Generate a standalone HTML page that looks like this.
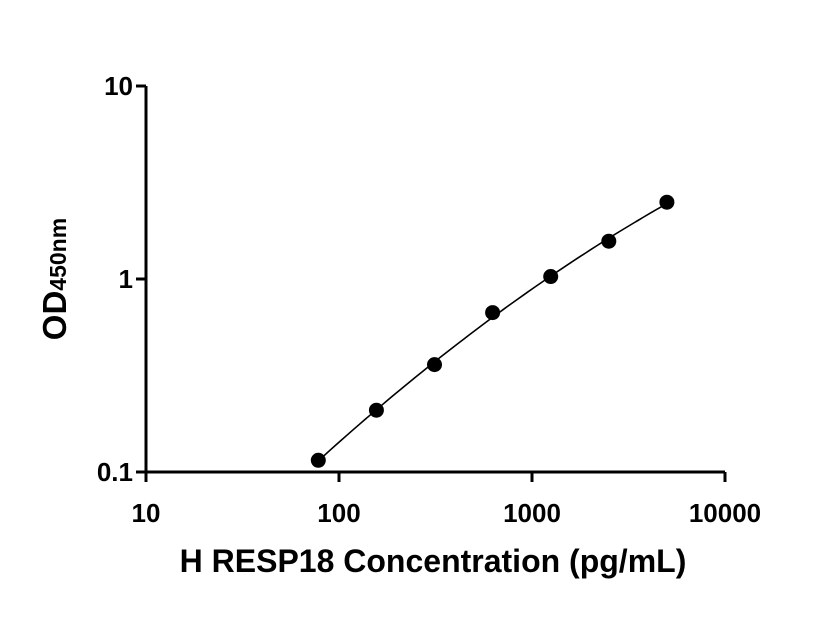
<!DOCTYPE html>
<html><head><meta charset="utf-8"><style>
body{margin:0;background:#fff;}
svg{display:block;font-family:"Liberation Sans",sans-serif;font-weight:bold;}
</style></head><body>
<svg id="chart" width="816" height="640">
<g id="axes"></g><g id="marks"></g>
<text x="433" y="572" font-size="32" text-anchor="middle">H RESP18 Concentration (pg/mL)</text>
<text transform="translate(66,279) rotate(-90)" font-size="33" text-anchor="middle">OD<tspan font-size="23">450nm</tspan></text>
</svg>
<script>
const conc=[78.125,156.25,312.5,625,1250,2500,5000];
const od=[0.115,0.209,0.36,0.67,1.03,1.57,2.5];
const xTicks=[10,100,1000,10000];
const xTickLabels=["10","100","1000","10000"];
const yTicks=[0.1,1,10];
const yTickLabels=["0.1","1","10"];
const X0=146,X1=725,Y0=472,Y1=86;
function sx(v){return X0+(Math.log10(v)-1)/3*(X1-X0);}
function sy(v){return Y0-(Math.log10(v)+1)/2*(Y0-Y1);}
const NS="http://www.w3.org/2000/svg";
const axes=document.getElementById('axes'),marks=document.getElementById('marks');
function mk(tag,attrs,parent){const e=document.createElementNS(NS,tag);for(const k in attrs)e.setAttribute(k,attrs[k]);parent.appendChild(e);return e;}
let l=mk('line',{x1:X0,y1:Y0,x2:X1,y2:Y0,stroke:'#000','stroke-width':3},axes);


l=mk('line',{x1:X0,y1:Y0+1.5,x2:X0,y2:Y1,stroke:'#000','stroke-width':3},axes);


xTicks.forEach((t,i)=>{
 const tk=mk('line',{x1:sx(t),y1:Y0,x2:sx(t),y2:Y0+10,stroke:'#000','stroke-width':3},axes);
 
 
 const tx=mk('text',{x:sx(t),y:Y0+50,'font-size':26,'text-anchor':'middle'},axes);
 tx.textContent=xTickLabels[i];
 
 
});
yTicks.forEach((t,i)=>{
 const tk=mk('line',{x1:X0-10,y1:sy(t),x2:X0,y2:sy(t),stroke:'#000','stroke-width':3},axes);
 
 
 const tx=mk('text',{x:X0-13,y:sy(t)+9,'font-size':26,'text-anchor':'end'},axes);
 tx.textContent=yTickLabels[i];
 
 
});
const lx=conc.map(Math.log10),ly=od.map(Math.log10);
function solve3(A,b){const M=A.map((r,i)=>[...r,b[i]]);for(let i=0;i<3;i++){let p=i;for(let j=i+1;j<3;j++)if(Math.abs(M[j][i])>Math.abs(M[p][i]))p=j;[M[i],M[p]]=[M[p],M[i]];for(let j=0;j<3;j++)if(j!==i){const f=M[j][i]/M[i][i];for(let k=i;k<4;k++)M[j][k]-=f*M[i][k];}}return M.map((r,i)=>r[3]/r[i]);}
const S=[0,0,0,0,0],T=[0,0,0];
lx.forEach((x,i)=>{for(let k=0;k<5;k++)S[k]+=x**k;for(let k=0;k<3;k++)T[k]+=ly[i]*x**k;});
const c=solve3([[S[0],S[1],S[2]],[S[1],S[2],S[3]],[S[2],S[3],S[4]]],T);
let d='';const a=lx[0],b=lx[lx.length-1];
for(let i=0;i<=60;i++){const x=a+(b-a)*i/60;const y=c[0]+c[1]*x+c[2]*x*x;d+=(i?'L':'M')+sx(10**x).toFixed(1)+','+sy(10**y).toFixed(1);}
const p=mk('path',{d:d,fill:'none',stroke:'#000','stroke-width':1.6},marks);


conc.forEach((v,i)=>{
 const ci=mk('circle',{cx:sx(v),cy:sy(od[i]),r:7.5,fill:'#000'},marks);
 
 
});
</script>
</body></html>
